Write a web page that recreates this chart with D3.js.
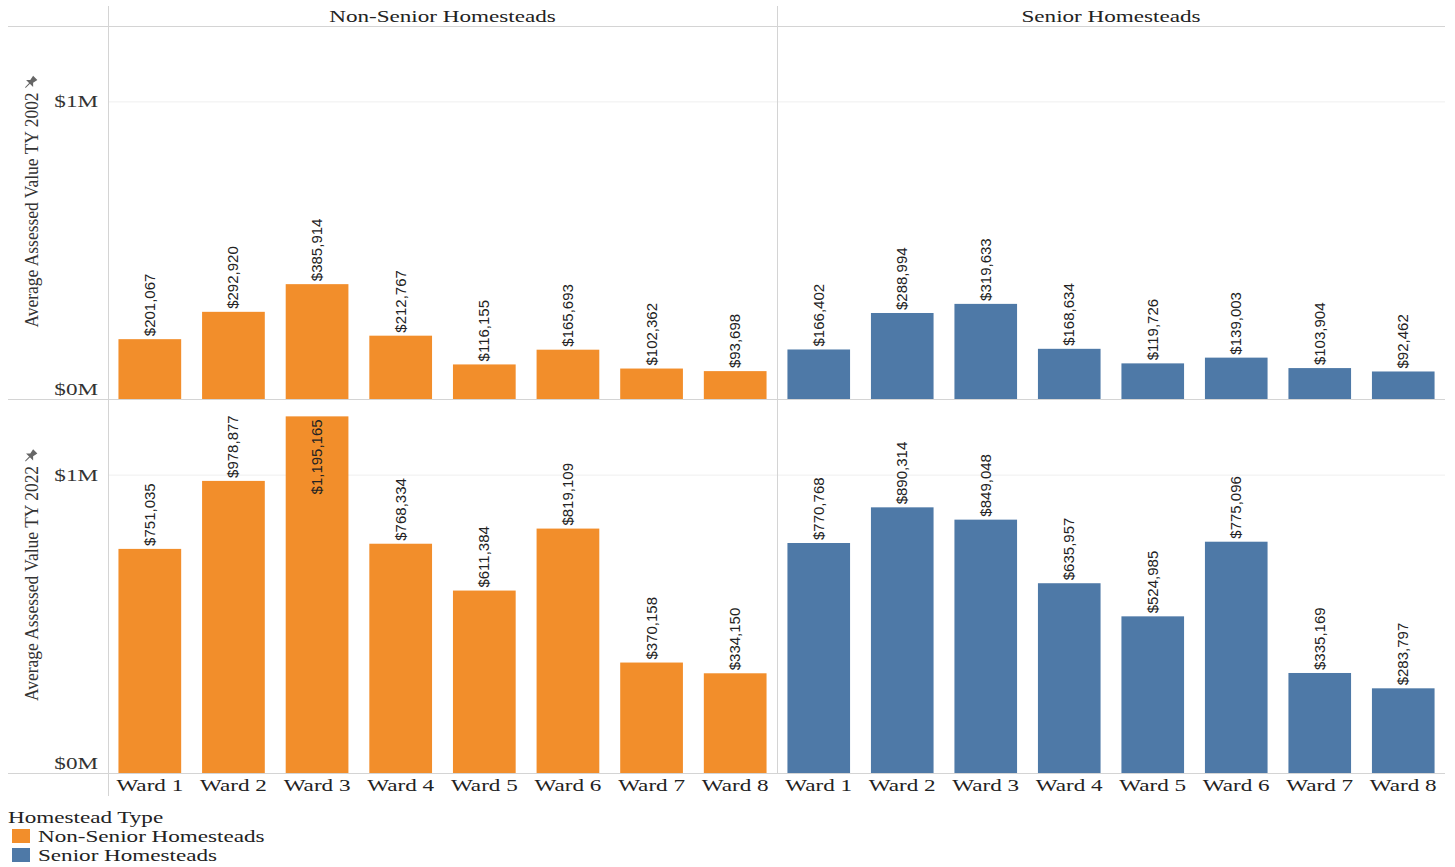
<!DOCTYPE html>
<html>
<head>
<meta charset="utf-8">
<script src="https://cdn.jsdelivr.net/npm/d3@7"></script>
<style>
  body { margin: 0; background: #fff; }
  svg text { font-family: "Liberation Serif", "Times New Roman", serif; }
  .lbl { font-family: "Liberation Sans Narrow", "Liberation Sans", sans-serif; font-size: 15px; fill: #222; }
</style>
</head>
<body>
<script>
// Data
const wards = ['Ward 1', 'Ward 2', 'Ward 3', 'Ward 4', 'Ward 5', 'Ward 6', 'Ward 7', 'Ward 8'];
const types = ['Non-Senior Homesteads', 'Senior Homesteads'];
const years = ['2002', '2022'];
const nonSenior2002 = [201067, 292920, 385914, 212767, 116155, 165693, 102362, 93698];
const senior2002 = [166402, 288994, 319633, 168634, 119726, 139003, 103904, 92462];
const nonSenior2022 = [751035, 978877, 1195165, 768334, 611384, 819109, 370158, 334150];
const senior2022 = [770768, 890314, 849048, 635957, 524985, 775096, 335169, 283797];
const yTicks = [0, 1000000];
const colors = ['#f28e2b', '#4e79a7'];

const values = {
  '2002': [nonSenior2002, senior2002],
  '2022': [nonSenior2022, senior2022]
};

const W = 1455, H = 867;
const plotLeft = 108, plotRight = 1445;
const rowTops = [27, 400], rowBottoms = [399, 773];
const colX = [108, 777, 1445];
const wide = 1.36; // the reference's serif text is stretched horizontally

const svg = d3.select('body').append('svg').attr('width', W).attr('height', H);
const fmt = d3.format('$,');

function wideText(parent, x, y, txt, anchor) {
  return parent.append('text')
    .attr('transform', `translate(${x},${y}) scale(${wide},1)`)
    .attr('text-anchor', anchor || 'start')
    .attr('font-size', 17).attr('fill', '#222')
    .text(txt);
}

// x scales, one per column
const xs = types.map((t, i) => d3.scaleBand().domain(wards).range([colX[i], colX[i + 1]]).paddingInner(0.25).paddingOuter(0.125));

years.forEach((yr, r) => {
  const y = d3.scaleLinear().domain([0, 1250000]).range([rowBottoms[r], rowTops[r]]);

  // gridlines
  svg.append('g').selectAll('line').data(yTicks.filter(d => d > 0)).enter().append('line')
    .attr('x1', plotLeft).attr('x2', plotRight)
    .attr('y1', d => y(d) + 0.5).attr('y2', d => y(d) + 0.5)
    .attr('stroke', '#efefef').attr('stroke-width', 1);

  // y tick labels
  yTicks.forEach(d => {
    wideText(svg, 98, d === 0 ? y(d) - 4 : y(d) + 6, '$' + (d / 1e6) + 'M', 'end').attr('fill', '#333');
  });

  // y title
  const mid = (rowTops[r] + rowBottoms[r]) / 2 - 3;
  svg.append('text')
    .attr('transform', `translate(38,${mid}) rotate(-90) scale(0.92,1)`)
    .attr('text-anchor', 'middle').attr('font-size', 19).attr('fill', '#333')
    .text('Average Assessed Value TY ' + yr);
  // pin icon
  svg.append('path')
    .attr('transform', `translate(31,${mid - 128}) rotate(45)`)
    .attr('d', 'M-3,-6 L3,-6 L2,-1 L5,2 L-5,2 L-2,-1 Z M-0.6,2 L0.6,2 L0.4,8 L-0.4,8 Z')
    .attr('fill', '#666');

  types.forEach((t, c) => {
    const x = xs[c];
    const data = wards.map((w, i) => ({ w, v: values[yr][c][i] }));
    const g = svg.append('g');
    g.selectAll('rect').data(data).enter().append('rect')
      .attr('x', d => x(d.w)).attr('width', x.bandwidth())
      .attr('y', d => y(d.v)).attr('height', d => y(0) - y(d.v))
      .attr('fill', colors[c]);

    g.selectAll('text').data(data).enter().append('text')
      .attr('class', 'lbl')
      .each(function (d) {
        const el = d3.select(this).text(fmt(d.v));
        const len = this.getComputedTextLength();
        const ty = y(d.v);
        const inside = ty - 4 - len < rowTops[r];
        el.attr('text-anchor', inside ? 'end' : 'start')
          .attr('transform', `translate(${x(d.w) + x.bandwidth() / 2 + 5},${inside ? ty + 3 : ty - 3}) rotate(-90)`);
      });
  });
});

// frame lines
const lineColor = '#d4d4d4';
svg.append('line').attr('x1', 8).attr('x2', plotRight).attr('y1', 26.5).attr('y2', 26.5).attr('stroke', lineColor);
svg.append('line').attr('x1', 8).attr('x2', plotRight).attr('y1', 399.5).attr('y2', 399.5).attr('stroke', lineColor);
svg.append('line').attr('x1', 8).attr('x2', plotRight).attr('y1', 773.5).attr('y2', 773.5).attr('stroke', lineColor);
svg.append('line').attr('x1', 108.5).attr('x2', 108.5).attr('y1', 6).attr('y2', 796).attr('stroke', lineColor);
svg.append('line').attr('x1', 777.5).attr('x2', 777.5).attr('y1', 6).attr('y2', 773).attr('stroke', lineColor);

// column headers and ward labels
types.forEach((t, c) => {
  wideText(svg, (colX[c] + colX[c + 1]) / 2, 22, t, 'middle');
  const x = xs[c];
  wards.forEach(w => wideText(svg, x(w) + x.bandwidth() / 2, 791, w, 'middle'));
});

// legend
wideText(svg, 8, 823, 'Homestead Type');
types.forEach((t, i) => {
  svg.append('rect').attr('x', 12).attr('y', 829 + i * 19).attr('width', 18).attr('height', 14).attr('fill', colors[i]);
  wideText(svg, 38, 842 + i * 19, t);
});
</script>
</body>
</html>
